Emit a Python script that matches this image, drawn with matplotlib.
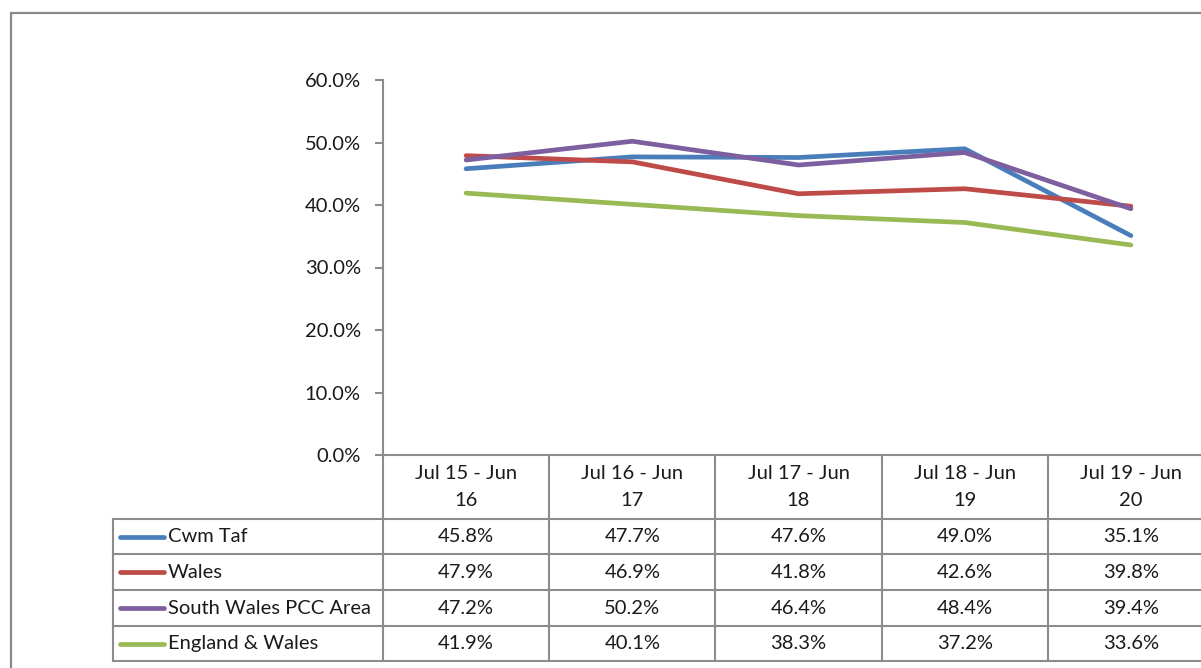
import matplotlib.pyplot as plt
from matplotlib.patches import Rectangle
from matplotlib.lines import Line2D
from matplotlib.transforms import blended_transform_factory

plt.rcParams['font.family'] = ['Lato', 'DejaVu Sans']

# data
periods = ["Jul 15 - Jun\n16", "Jul 16 - Jun\n17", "Jul 17 - Jun\n18",
           "Jul 18 - Jun\n19", "Jul 19 - Jun\n20"]
series_names = ["Cwm Taf", "Wales", "South Wales PCC Area", "England & Wales"]
cwm_taf = [45.8, 47.7, 47.6, 49.0, 35.1]
wales = [47.9, 46.9, 41.8, 42.6, 39.8]
south_wales = [47.2, 50.2, 46.4, 48.4, 39.4]
england_wales = [41.9, 40.1, 38.3, 37.2, 33.6]
series = [cwm_taf, wales, south_wales, england_wales]
colors = ["#4A7EBB", "#BE4B48", "#7D5FA0", "#98B954"]

W, H = 1201, 668
fig = plt.figure(figsize=(W / 100, H / 100), dpi=100)

def fx(px):
    return px / W

def fy(py):
    return 1 - py / H

grid_col = "#8C8C8C"
txt_col = "#1A1A1A"
fs = 14.5

# outer chart frame
fig.add_artist(Rectangle((fx(11), fy(700)), 1.1, fy(13) - fy(700), transform=fig.transFigure,
                         fill=False, edgecolor="#898989", lw=1.6))

n = len(periods)
col_w = (1214 - 383) / n
label_cols = (383 - 113) / col_w

ax = fig.add_axes([fx(113), fy(455), fx(1214) - fx(113), fy(80) - fy(455)])
ax.set_xlim(-0.5 - label_cols, n - 0.5)
ax.set_ylim(0, 60)
ax.patch.set_visible(False)

x = list(range(n))
for vals, c in zip(series, colors):
    ax.plot(x, vals, color=c, lw=3.4, solid_capstyle='round', solid_joinstyle='round')

for s in ['top', 'right']:
    ax.spines[s].set_visible(False)
ax.spines['left'].set_position(('data', -0.5))
ax.spines['left'].set_bounds(0, 60)
ax.spines['bottom'].set_bounds(-0.5, n - 0.5)
for s in ['left', 'bottom']:
    ax.spines[s].set_color(grid_col)
    ax.spines[s].set_linewidth(1.5)
ax.set_yticks(range(0, 61, 10))
ax.set_yticklabels([f"{v:.1f}%" for v in range(0, 61, 10)])
ax.tick_params(axis='y', direction='out', length=6, width=1.5, color=grid_col,
               labelsize=fs, labelcolor=txt_col, pad=10)
ax.set_xticks([])

# data table under the plot
tr = blended_transform_factory(ax.transData, fig.transFigure)
rows_px = [455, 519, 554, 590, 626, 661]
left_x = -0.5 - label_cols
for k in range(n + 1):
    ax.add_line(Line2D([k - 0.5, k - 0.5], [fy(455), fy(661)], transform=tr,
                       color=grid_col, lw=1.5, clip_on=False))
ax.add_line(Line2D([left_x, left_x], [fy(519), fy(661)], transform=tr,
                   color=grid_col, lw=1.5, clip_on=False))
for r in rows_px[1:]:
    ax.add_line(Line2D([left_x, n - 0.5], [fy(r), fy(r)], transform=tr,
                       color=grid_col, lw=1.5, clip_on=False))

for i, p in enumerate(periods):
    ax.text(i, fy((rows_px[0] + rows_px[1]) / 2), p, transform=tr, ha='center', va='center',
            fontsize=fs, color=txt_col, linespacing=1.75, clip_on=False)

for j, (name, vals, c) in enumerate(zip(series_names, series, colors)):
    yc = fy((rows_px[j + 1] + rows_px[j + 2]) / 2)
    for i, v in enumerate(vals):
        ax.text(i, yc, f"{v:.1f}%", transform=tr, ha='center', va='center',
                fontsize=fs, color=txt_col, clip_on=False)
    fig.add_artist(Line2D([fx(120), fx(164)], [yc, yc], transform=fig.transFigure,
                          color=c, lw=3.4, solid_capstyle='round'))
    fig.text(fx(168), yc, name, ha='left', va='center', fontsize=fs, color=txt_col)

fig.savefig("out.png", dpi=100)
